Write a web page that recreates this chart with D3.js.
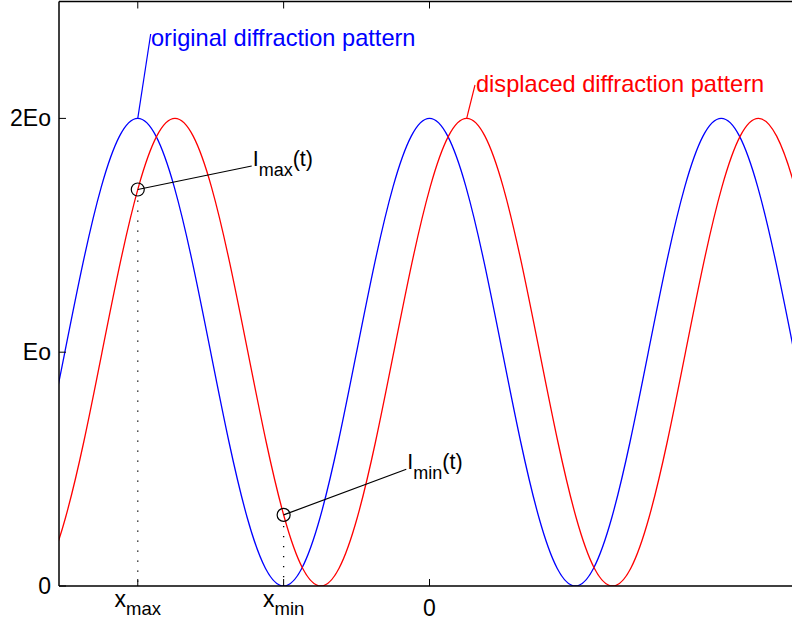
<!DOCTYPE html>
<html>
<head>
<meta charset="utf-8">
<script src="https://cdn.jsdelivr.net/npm/d3@7"></script>
<style>
  html, body { margin: 0; padding: 0; background: #fff; }
  svg { display: block; font-family: "Liberation Sans", Arial, Helvetica, sans-serif; }
</style>
</head>
<body>
<svg id="chart" width="792" height="623"></svg>
<script>
// Positions along the screen (in units of half a fringe period) and intensity in units of Eo
const samplePositions = d3.range(49).map(k => -3 + k * 0.125);
const originalIntensity = [
  0, 0.076, 0.293, 0.617, 1, 1.383, 1.707, 1.924, 2, 1.924, 1.707, 1.383, 1, 0.617, 0.293, 0.076,
  0, 0.076, 0.293, 0.617, 1, 1.383, 1.707, 1.924, 2, 1.924, 1.707, 1.383, 1, 0.617, 0.293, 0.076,
  0, 0.076, 0.293, 0.617, 1, 1.383, 1.707, 1.924, 2, 1.924, 1.707, 1.383, 1, 0.617, 0.293, 0.076,
  0
];
// The displaced pattern is the same fringe profile shifted along x
const displacement = 0.255;

const seriesNames = ["original diffraction pattern", "displaced diffraction pattern"];
const seriesShifts = [0, displacement];
const seriesColors = ["#0000ff", "#ff0000"];
// Peak of each curve that its label points at
const labelPeakX = [-2, displacement];

const xTickValues = [-2, -1, 0];
const xTickMain = ["x", "x", "0"];
const xTickSub = ["max", "min", ""];
const yTickValues = [0, 1, 2];
const yTickLabels = ["0", "Eo", "2Eo"];

// Sample points taken on the displaced curve at x_max and x_min
const markerX = [-2, -1];
const markerMain = ["I", "I"];
const markerSub = ["max", "min"];

const xDomain = [-2.54, 2.54];
const yDomain = [0, 2.5];

(function draw() {
  const svg = d3.select("#chart");
  const plotLeft = 59, plotBottom = 586, plotTop = 1.5, plotRight = 800;

  const x = d3.scaleLinear().domain(xDomain).range([plotLeft, plotRight]);
  const y = d3.scaleLinear().domain(yDomain).range([plotBottom, plotTop]);

  svg.append("defs").append("clipPath").attr("id", "plotClip")
    .append("rect").attr("x", plotLeft).attr("y", plotTop)
    .attr("width", plotRight - plotLeft).attr("height", plotBottom - plotTop);

  const line = d3.line().x(d => x(d[0])).y(d => y(d[1])).curve(d3.curveNatural);

  const plot = svg.append("g").attr("clip-path", "url(#plotClip)");
  const curvePaths = seriesShifts.map((shift, i) => {
    const pts = samplePositions.map((p, k) => [p + shift, originalIntensity[k]]);
    return plot.append("path")
      .attr("d", line(pts))
      .attr("fill", "none")
      .attr("stroke", seriesColors[i])
      .attr("stroke-width", 1.3)
      .node();
  });

  // Screen y of a drawn curve at screen x (the curves are single-valued in x)
  function curveYAt(node, px) {
    let lo = 0, hi = node.getTotalLength();
    for (let it = 0; it < 50; it++) {
      const mid = (lo + hi) / 2;
      if (node.getPointAtLength(mid).x < px) lo = mid; else hi = mid;
    }
    return node.getPointAtLength(lo).y;
  }

  // Axes: bottom and left with inward ticks, plus the top box edge with mirrored ticks
  const axisG = svg.append("g").attr("stroke", "#000").attr("fill", "none");
  axisG.append("line").attr("x1", plotLeft).attr("x2", plotRight).attr("y1", plotBottom).attr("y2", plotBottom).attr("stroke-width", 1.5);
  axisG.append("line").attr("x1", plotLeft).attr("x2", plotRight).attr("y1", plotTop).attr("y2", plotTop).attr("stroke-width", 1.5);
  axisG.append("line").attr("x1", plotLeft).attr("x2", plotLeft).attr("y1", plotTop).attr("y2", plotBottom).attr("stroke-width", 1.5);

  xTickValues.forEach(v => {
    axisG.append("line").attr("x1", x(v)).attr("x2", x(v)).attr("y1", plotBottom).attr("y2", plotBottom - 7).attr("stroke-width", 1);
    axisG.append("line").attr("x1", x(v)).attr("x2", x(v)).attr("y1", plotTop).attr("y2", plotTop + 7).attr("stroke-width", 1);
  });
  yTickValues.forEach(v => {
    axisG.append("line").attr("x1", plotLeft).attr("x2", plotLeft + 7).attr("y1", y(v)).attr("y2", y(v)).attr("stroke-width", 1);
  });

  yTickLabels.forEach((lab, i) => {
    svg.append("text")
      .attr("x", 51).attr("y", y(yTickValues[i]) + 8)
      .attr("text-anchor", "end")
      .attr("font-size", 23)
      .attr("fill", "#000")
      .text(lab);
  });

  xTickValues.forEach((v, i) => {
    const t = svg.append("text")
      .attr("x", x(v)).attr("y", xTickSub[i] ? 606.5 : 616)
      .attr("text-anchor", "middle")
      .attr("fill", "#000")
      .attr("font-size", 23);
    t.append("tspan").text(xTickMain[i]);
    if (xTickSub[i]) {
      t.append("tspan").attr("dy", 8.5).attr("font-size", 18.5).text(xTickSub[i]);
    }
  });

  // Series labels with leader lines from a peak of each curve
  const seriesLabelPos = [[151, 46, 150.7, 34], [476, 91.5, 475, 85]];
  seriesNames.forEach((name, i) => {
    const [tx, ty, lx, ly] = seriesLabelPos[i];
    svg.append("line")
      .attr("x1", x(labelPeakX[i])).attr("y1", y(2))
      .attr("x2", lx).attr("y2", ly)
      .attr("stroke", seriesColors[i]).attr("stroke-width", 1.2);
    svg.append("text")
      .attr("x", tx).attr("y", ty)
      .attr("fill", seriesColors[i])
      .attr("font-size", 23.6)
      .text(name);
  });

  // Sample markers on the displaced curve, with dotted drops to the axis and labels
  const markerLabelPos = [[251.7, 166], [406.3, 469.3]];
  markerX.forEach((mx, i) => {
    const cx = x(mx), cy = curveYAt(curvePaths[1], cx);
    svg.append("line")
      .attr("x1", cx).attr("x2", cx).attr("y1", cy + 11).attr("y2", plotBottom)
      .attr("stroke", "#000").attr("stroke-width", 1.3)
      .attr("stroke-dasharray", "1.3,8.7");
    const [lx, ly] = markerLabelPos[i];
    svg.append("line")
      .attr("x1", cx).attr("y1", cy).attr("x2", lx).attr("y2", ly)
      .attr("stroke", "#000").attr("stroke-width", 1.2);
    svg.append("circle")
      .attr("cx", cx).attr("cy", cy).attr("r", 6.5)
      .attr("fill", "none").attr("stroke", "#000").attr("stroke-width", 1.2);
    const t = svg.append("text")
      .attr("x", lx + 1).attr("y", ly)
      .attr("fill", "#000")
      .attr("font-size", 21.5);
    t.append("tspan").text(markerMain[i]);
    t.append("tspan").attr("dy", 10).attr("font-size", 18).text(markerSub[i]);
    t.append("tspan").attr("dy", -10).text("(t)");
  });
})();
</script>
</body>
</html>
